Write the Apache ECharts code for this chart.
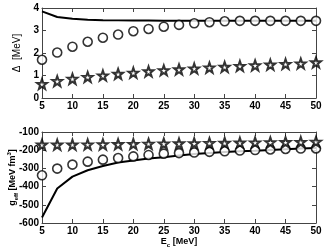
<!DOCTYPE html>
<html><head><meta charset="utf-8">
<script src="https://cdn.jsdelivr.net/npm/echarts@6/dist/echarts.min.js"></script>
<style>html,body{margin:0;padding:0;background:#fff}#c{width:327px;height:252px}</style>
</head><body><div id="c"></div>
<script>
const ec = [5,7.5,10,12.5,15,17.5,20,22.5,25,27.5,30,32.5,35,37.5,40,42.5,45,47.5,50];
const deltaLine = [3.85,3.6,3.52,3.48,3.46,3.45,3.44,3.44,3.43,3.43,3.43,3.43,3.43,3.43,3.43,3.43,3.43,3.43,3.43];
const deltaCircle = [1.7,2.02,2.28,2.5,2.68,2.82,2.97,3.07,3.17,3.25,3.32,3.37,3.41,3.43,3.43,3.43,3.43,3.43,3.43];
const deltaStar = [0.62,0.75,0.85,0.93,1.0,1.07,1.12,1.18,1.23,1.27,1.31,1.35,1.38,1.42,1.45,1.48,1.51,1.53,1.58];
const gLine = [-570,-410,-345,-310,-287,-268,-256,-246,-239,-229,-221,-215,-210,-206,-203,-199,-195,-191,-188];
const gCircle = [-338,-301,-279,-263,-252,-243,-234,-226,-219,-216,-213,-209,-206,-202,-199,-196,-193,-191,-190];
const gStar = [-170,-170,-170,-169,-168,-167,-166,-165,-164,-163,-162,-161,-160,-159,-158,-157,-156,-155,-154];

const star = 'path://M0,-10 L2.35,-3.24 L9.51,-3.09 L3.8,1.24 L5.88,8.09 L0,4 L-5.88,8.09 L-3.8,1.24 L-9.51,-3.09 L-2.35,-3.24 Z';
const pair = d => ec.map((x,i)=>[x,d[i]]);
const axisLineS = {lineStyle:{color:'#444',width:1}};
const tickS = {inside:true,length:4,lineStyle:{color:'#444'}};
const FF = 'Liberation Sans, Arial';
const lab = {fontFamily:FF,fontWeight:'bold',fontSize:10,color:'#000'};
const richT = {
  b:{fontFamily:FF,fontWeight:'bold',fontSize:9,color:'#000',lineHeight:13,verticalAlign:'middle'},
  s:{fontFamily:FF,fontWeight:'bold',fontSize:6,color:'#000',lineHeight:6,verticalAlign:'bottom'},
  p:{fontFamily:FF,fontWeight:'bold',fontSize:6,color:'#000',lineHeight:6,verticalAlign:'top'}
};
function xa(gi, top){
  return {type:'value',gridIndex:gi,min:5,max:50,interval:5,position:top?'top':'bottom',
    axisLine:Object.assign({onZero:false},axisLineS),axisTick:tickS,splitLine:{show:false},
    axisLabel:top?{show:false}:Object.assign({margin:3},lab)};
}
function ya(gi,min,max,iv,right,name,gap){
  const o={type:'value',gridIndex:gi,min:min,max:max,interval:iv,position:right?'right':'left',
    axisLine:axisLineS,axisTick:tickS,splitLine:{show:false},
    axisLabel:right?{show:false}:Object.assign({margin:3},lab)};
  if(name){o.name=name.text;o.nameLocation='middle';o.nameRotate=90;o.nameGap=gap;o.nameTextStyle=name.style;o.nameMoveOverlap=false;}
  return o;
}
const chart = echarts.init(document.getElementById('c'),null,{renderer:'canvas'});
const circleS = {symbol:'circle',symbolSize:9,itemStyle:{color:'#fff',borderColor:'#000',borderWidth:1.6}};
const starS = {symbol:star,symbolSize:10,itemStyle:{color:'#fff',borderColor:'#000',borderWidth:2}};
chart.setOption({
  animation:false,
  grid:[{left:42,right:11,top:8,height:90,containLabel:false,outerBoundsMode:'none'},
        {left:42,right:11,top:132,height:91,containLabel:false,outerBoundsMode:'none'}],
  xAxis:[xa(0,false),xa(0,true),
    Object.assign(xa(1,false),{name:'{b|E}{s|c}{b| [MeV]}',nameLocation:'middle',nameGap:12,nameMoveOverlap:false,
      nameTextStyle:{rich:richT}}),
    xa(1,true)],
  yAxis:[ya(0,0,4,1,false,{text:'Δ  [MeV]',style:{fontFamily:FF,fontSize:10,color:'#000'}},20),
    ya(0,0,4,1,true),
    ya(1,-600,-100,100,false,{text:'{b|g}{s|eff}{b| [MeV fm}{p|3}{b|]}',style:{rich:richT}},23),
    ya(1,-600,-100,100,true)],
  series:[
    {type:'line',xAxisIndex:0,yAxisIndex:0,data:pair(deltaLine),showSymbol:false,lineStyle:{color:'#000',width:2},z:2},
    Object.assign({type:'scatter',xAxisIndex:0,yAxisIndex:0,data:pair(deltaCircle),z:3},circleS),
    Object.assign({type:'scatter',xAxisIndex:0,yAxisIndex:0,data:pair(deltaStar),z:3},starS),
    {type:'line',xAxisIndex:2,yAxisIndex:2,data:pair(gLine),showSymbol:false,lineStyle:{color:'#000',width:2},z:2},
    Object.assign({type:'scatter',xAxisIndex:2,yAxisIndex:2,data:pair(gCircle),z:3},circleS),
    Object.assign({type:'scatter',xAxisIndex:2,yAxisIndex:2,data:pair(gStar),z:3},starS)
  ]
});
</script></body></html>
